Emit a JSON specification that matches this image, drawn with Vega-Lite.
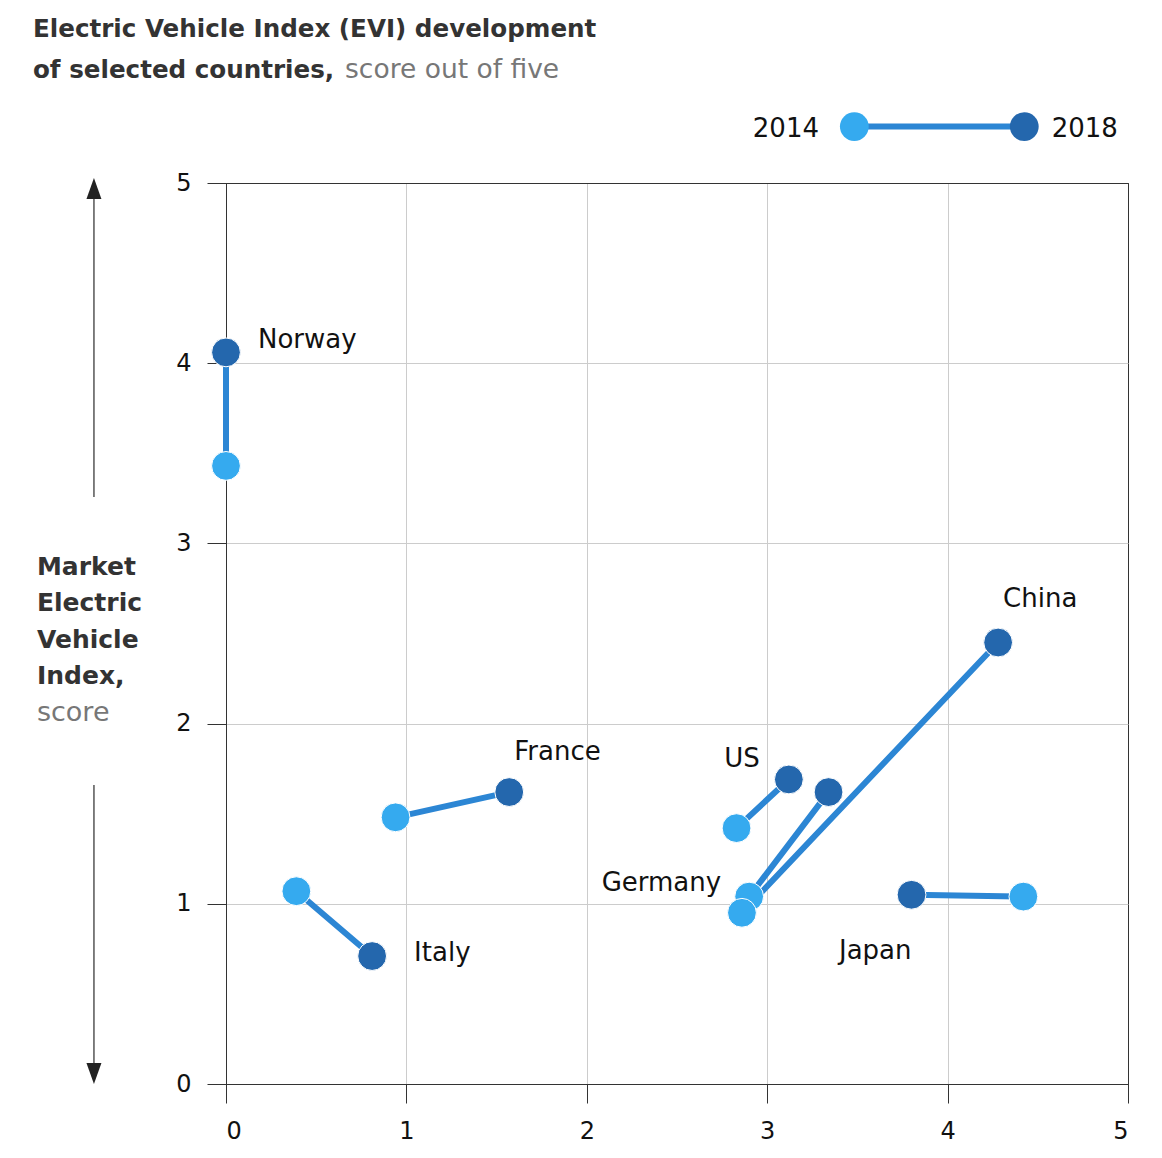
{
  "$schema": "https://vega.github.io/schema/vega-lite/v6.json",
  "width": 902,
  "height": 901,
  "autosize": "none",
  "padding": {"left": 226, "top": 183, "right": 34, "bottom": 74},
  "background": "white",
  "datasets": {
    "evi": [
      {"country": "Norway", "x2014": 0.0, "y2014": 3.43, "x2018": 0.0, "y2018": 4.06},
      {"country": "France", "x2014": 0.94, "y2014": 1.48, "x2018": 1.57, "y2018": 1.62},
      {"country": "Italy", "x2014": 0.39, "y2014": 1.07, "x2018": 0.81, "y2018": 0.71},
      {"country": "US", "x2014": 2.83, "y2014": 1.42, "x2018": 3.12, "y2018": 1.69},
      {"country": "Germany", "x2014": 2.9, "y2014": 1.04, "x2018": 3.34, "y2018": 1.62},
      {"country": "China", "x2014": 2.86, "y2014": 0.95, "x2018": 4.28, "y2018": 2.45},
      {"country": "Japan", "x2014": 4.42, "y2014": 1.04, "x2018": 3.8, "y2018": 1.05}
    ],
    "one": [{"id": 1}]
  },
  "layer": [
    {
      "data": {"name": "evi"},
      "mark": {"type": "rule", "color": "#2c86d4", "strokeWidth": 6, "strokeCap": "round"},
      "encoding": {
        "x": {
          "field": "x2014",
          "type": "quantitative",
          "scale": {"domain": [0, 5], "nice": false, "zero": false},
          "axis": {"title": null, "values": [0, 1, 2, 3, 4, 5], "format": "d"}
        },
        "y": {
          "field": "y2014",
          "type": "quantitative",
          "scale": {"domain": [0, 5], "nice": false, "zero": false},
          "axis": {"title": null, "values": [0, 1, 2, 3, 4, 5], "format": "d"}
        },
        "x2": {"field": "x2018"},
        "y2": {"field": "y2018"}
      }
    },
    {
      "data": {"name": "evi"},
      "mark": {"type": "point", "filled": true, "opacity": 1, "size": 830, "color": "#2467ad", "stroke": "white", "strokeWidth": 1},
      "encoding": {
        "x": {"field": "x2018", "type": "quantitative"},
        "y": {"field": "y2018", "type": "quantitative"}
      }
    },
    {
      "data": {"name": "evi"},
      "mark": {"type": "point", "filled": true, "opacity": 1, "size": 830, "color": "#35aaef", "stroke": "white", "strokeWidth": 1},
      "encoding": {
        "x": {"field": "x2014", "type": "quantitative"},
        "y": {"field": "y2014", "type": "quantitative"}
      }
    },
    {
      "data": {"name": "evi"},
      "transform": [{"filter": "datum.country == 'Norway'"}],
      "mark": {"type": "text", "align": "left", "baseline": "middle", "dx": 32, "dy": -12, "fontSize": 26, "color": "#111"},
      "encoding": {"x": {"field": "x2018", "type": "quantitative"}, "y": {"field": "y2018", "type": "quantitative"}, "text": {"field": "country"}}
    },
    {
      "data": {"name": "evi"},
      "transform": [{"filter": "datum.country == 'France'"}],
      "mark": {"type": "text", "align": "left", "baseline": "middle", "dx": 5, "dy": -40, "fontSize": 26, "color": "#111"},
      "encoding": {"x": {"field": "x2018", "type": "quantitative"}, "y": {"field": "y2018", "type": "quantitative"}, "text": {"field": "country"}}
    },
    {
      "data": {"name": "evi"},
      "transform": [{"filter": "datum.country == 'Italy'"}],
      "mark": {"type": "text", "align": "left", "baseline": "middle", "dx": 42, "dy": -3, "fontSize": 26, "color": "#111"},
      "encoding": {"x": {"field": "x2018", "type": "quantitative"}, "y": {"field": "y2018", "type": "quantitative"}, "text": {"field": "country"}}
    },
    {
      "data": {"name": "evi"},
      "transform": [{"filter": "datum.country == 'US'"}],
      "mark": {"type": "text", "align": "right", "baseline": "middle", "dx": -29, "dy": -20, "fontSize": 26, "color": "#111"},
      "encoding": {"x": {"field": "x2018", "type": "quantitative"}, "y": {"field": "y2018", "type": "quantitative"}, "text": {"field": "country"}}
    },
    {
      "data": {"name": "evi"},
      "transform": [{"filter": "datum.country == 'Germany'"}],
      "mark": {"type": "text", "align": "right", "baseline": "middle", "dx": -28, "dy": -14, "fontSize": 26, "color": "#111"},
      "encoding": {"x": {"field": "x2014", "type": "quantitative"}, "y": {"field": "y2014", "type": "quantitative"}, "text": {"field": "country"}}
    },
    {
      "data": {"name": "evi"},
      "transform": [{"filter": "datum.country == 'China'"}],
      "mark": {"type": "text", "align": "left", "baseline": "middle", "dx": 5, "dy": -44, "fontSize": 26, "color": "#111"},
      "encoding": {"x": {"field": "x2018", "type": "quantitative"}, "y": {"field": "y2018", "type": "quantitative"}, "text": {"field": "country"}}
    },
    {
      "data": {"name": "evi"},
      "transform": [{"filter": "datum.country == 'Japan'"}],
      "mark": {"type": "text", "align": "right", "baseline": "middle", "dx": 0, "dy": 56, "fontSize": 26, "color": "#111"},
      "encoding": {"x": {"field": "x2018", "type": "quantitative"}, "y": {"field": "y2018", "type": "quantitative"}, "text": {"field": "country"}}
    },
    {
      "data": {"name": "one"},
      "mark": {"type": "text", "align": "left", "baseline": "alphabetic", "fontSize": 24.6, "fontWeight": "bold", "color": "#333", "text": "Electric Vehicle Index (EVI) development"},
      "encoding": {"x": {"datum": -1.07, "type": "quantitative"}, "y": {"datum": 5.81, "type": "quantitative"}}
    },
    {
      "data": {"name": "one"},
      "mark": {"type": "text", "align": "left", "baseline": "alphabetic", "fontSize": 24.6, "fontWeight": "bold", "color": "#333", "text": "of selected countries,"},
      "encoding": {"x": {"datum": -1.07, "type": "quantitative"}, "y": {"datum": 5.585, "type": "quantitative"}}
    },
    {
      "data": {"name": "one"},
      "mark": {"type": "text", "align": "left", "baseline": "alphabetic", "fontSize": 26.5, "color": "#777", "text": "score out of five"},
      "encoding": {"x": {"datum": 0.66, "type": "quantitative"}, "y": {"datum": 5.585, "type": "quantitative"}}
    },
    {
      "data": {"name": "one"},
      "mark": {"type": "rule", "color": "#2c86d4", "strokeWidth": 6},
      "encoding": {"x": {"datum": 3.483, "type": "quantitative"}, "x2": {"datum": 4.425}, "y": {"datum": 5.313, "type": "quantitative"}}
    },
    {
      "data": {"name": "one"},
      "mark": {"type": "point", "filled": true, "opacity": 1, "size": 830, "color": "#35aaef"},
      "encoding": {"x": {"datum": 3.483, "type": "quantitative"}, "y": {"datum": 5.313, "type": "quantitative"}}
    },
    {
      "data": {"name": "one"},
      "mark": {"type": "point", "filled": true, "opacity": 1, "size": 830, "color": "#2467ad"},
      "encoding": {"x": {"datum": 4.425, "type": "quantitative"}, "y": {"datum": 5.313, "type": "quantitative"}}
    },
    {
      "data": {"name": "one"},
      "mark": {"type": "text", "align": "right", "baseline": "middle", "fontSize": 26, "color": "#111", "text": "2014"},
      "encoding": {"x": {"datum": 3.287, "type": "quantitative"}, "y": {"datum": 5.3, "type": "quantitative"}}
    },
    {
      "data": {"name": "one"},
      "mark": {"type": "text", "align": "left", "baseline": "middle", "fontSize": 26, "color": "#111", "text": "2018"},
      "encoding": {"x": {"datum": 4.577, "type": "quantitative"}, "y": {"datum": 5.3, "type": "quantitative"}}
    },
    {
      "data": {"name": "one"},
      "mark": {"type": "text", "align": "left", "baseline": "alphabetic", "fontSize": 25, "fontWeight": "bold", "color": "#333", "lineHeight": 36.5, "text": ["Market", "Electric", "Vehicle", "Index,"]},
      "encoding": {"x": {"datum": -1.048, "type": "quantitative"}, "y": {"datum": 2.825, "type": "quantitative"}}
    },
    {
      "data": {"name": "one"},
      "mark": {"type": "text", "align": "left", "baseline": "alphabetic", "fontSize": 27, "color": "#777", "text": "score"},
      "encoding": {"x": {"datum": -1.048, "type": "quantitative"}, "y": {"datum": 2.014, "type": "quantitative"}}
    },
    {
      "data": {"name": "one"},
      "mark": {"type": "rule", "color": "#555", "strokeWidth": 1.5},
      "encoding": {"x": {"datum": -0.732, "type": "quantitative"}, "y": {"datum": 3.257, "type": "quantitative"}, "y2": {"datum": 4.95}}
    },
    {
      "data": {"name": "one"},
      "mark": {"type": "rule", "color": "#555", "strokeWidth": 1.5},
      "encoding": {"x": {"datum": -0.732, "type": "quantitative"}, "y": {"datum": 1.659, "type": "quantitative"}, "y2": {"datum": 0.08}}
    },
    {
      "data": {"name": "one"},
      "mark": {"type": "point", "filled": true, "opacity": 1, "size": 441, "color": "#222", "shape": "M0,-1L0.714,1L-0.714,1Z"},
      "encoding": {"x": {"datum": -0.732, "type": "quantitative"}, "y": {"datum": 4.969, "type": "quantitative"}}
    },
    {
      "data": {"name": "one"},
      "mark": {"type": "point", "filled": true, "opacity": 1, "size": 441, "color": "#222", "shape": "M0,1L0.714,-1L-0.714,-1Z"},
      "encoding": {"x": {"datum": -0.732, "type": "quantitative"}, "y": {"datum": 0.058, "type": "quantitative"}}
    }
  ],
  "config": {
    "font": "DejaVu Sans",
    "view": {"stroke": "#333", "strokeWidth": 1},
    "axis": {
      "domainColor": "#333",
      "tickColor": "#333",
      "tickSize": 19,
      "labelPadding": 16,
      "labelFontSize": 24,
      "labelColor": "#111",
      "labelFont": "DejaVu Sans",
      "gridColor": {"condition": {"test": "datum.value == 0 || datum.value == 5", "value": "#333"}, "value": "#cccccc"},
      "gridWidth": 1
    }
  }
}
